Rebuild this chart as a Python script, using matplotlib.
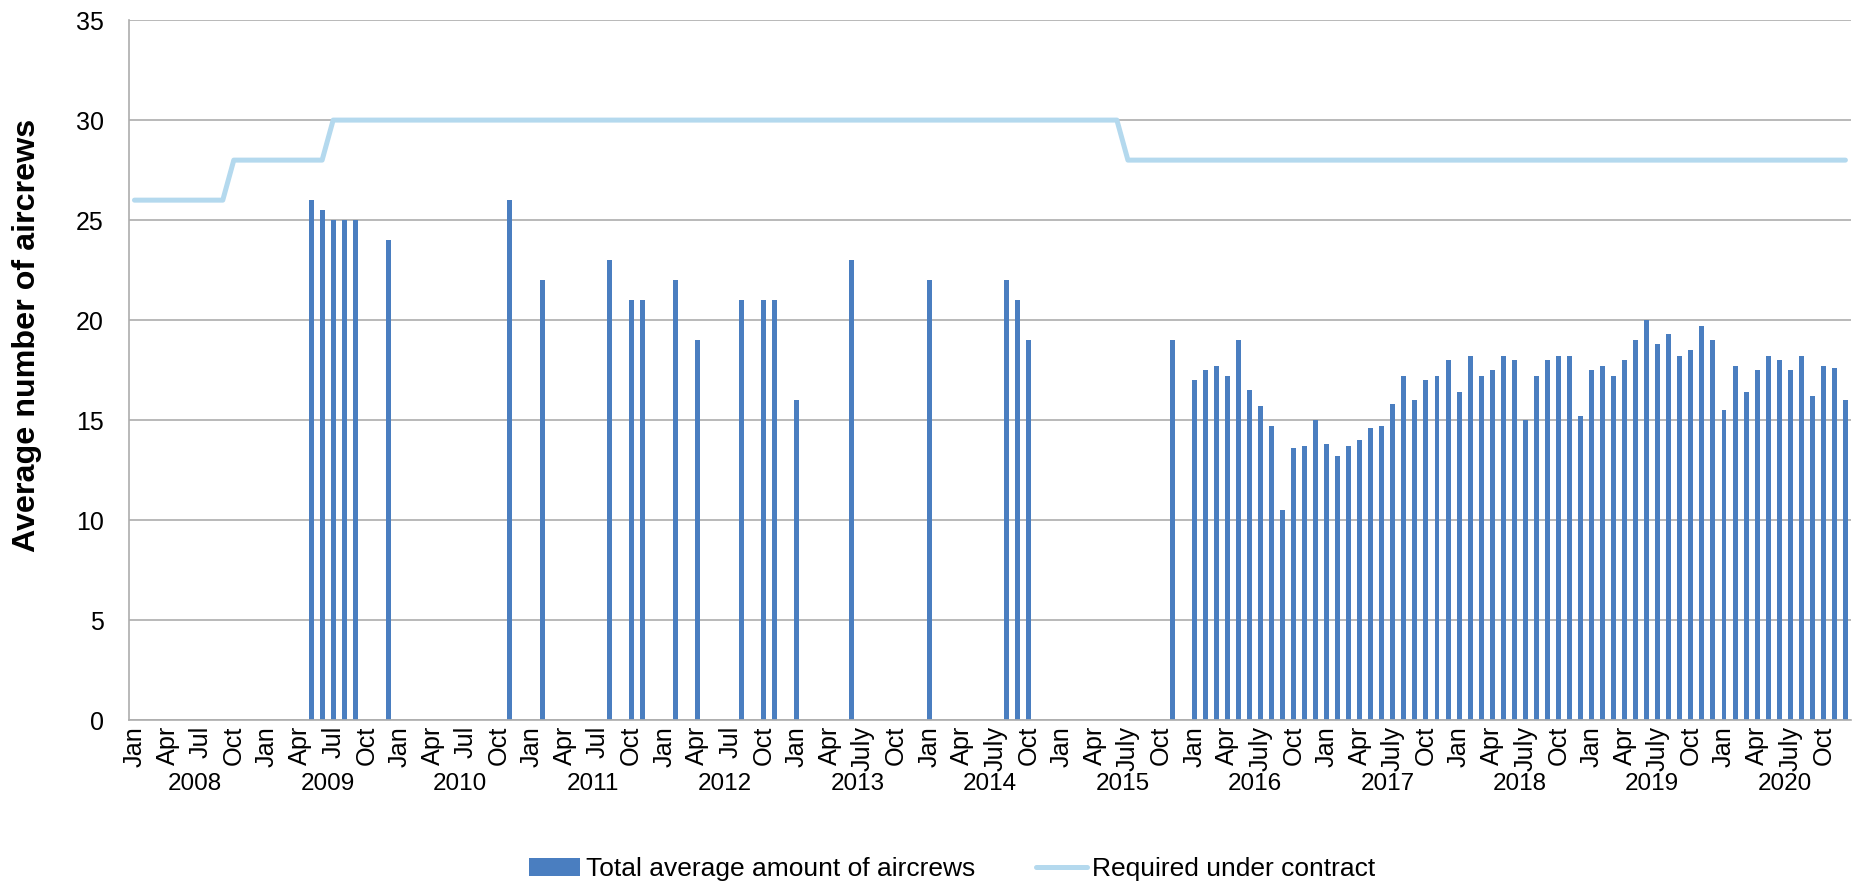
import numpy as np
import matplotlib
matplotlib.use("Agg")
import matplotlib.pyplot as plt
from matplotlib.lines import Line2D
from matplotlib.patches import Patch

plt.rcParams["font.family"] = ["Liberation Sans", "DejaVu Sans"]

NA = np.nan

years = ["2008", "2009", "2010", "2011", "2012", "2013", "2014",
         "2015", "2016", "2017", "2018", "2019", "2020"]
months_short = ["Jan", "Apr", "Jul", "Oct"]   # used 2008-2012
months_long = ["Jan", "Apr", "July", "Oct"]   # used 2013-2020

# monthly average of aircrews, Jan..Dec, NA = no figure reported
aircrews_2008 = [NA, NA, NA, NA, NA, NA, NA, NA, NA, NA, NA, NA]
aircrews_2009 = [NA, NA, NA, NA, 26, 25.5, 25, 25, 25, NA, NA, 24]
aircrews_2010 = [NA, NA, NA, NA, NA, NA, NA, NA, NA, NA, 26, NA]
aircrews_2011 = [NA, 22, NA, NA, NA, NA, NA, 23, NA, 21, 21, NA]
aircrews_2012 = [NA, 22, NA, 19, NA, NA, NA, 21, NA, 21, 21, NA]
aircrews_2013 = [16, NA, NA, NA, NA, 23, NA, NA, NA, NA, NA, NA]
aircrews_2014 = [22, NA, NA, NA, NA, NA, NA, 22, 21, 19, NA, NA]
aircrews_2015 = [NA, NA, NA, NA, NA, NA, NA, NA, NA, NA, 19, NA]
aircrews_2016 = [17, 17.5, 17.7, 17.2, 19, 16.5, 15.7, 14.7, 10.5, 13.6, 13.7, 15]
aircrews_2017 = [13.8, 13.2, 13.7, 14, 14.6, 14.7, 15.8, 17.2, 16, 17, 17.2, 18]
aircrews_2018 = [16.4, 18.2, 17.2, 17.5, 18.2, 18, 15, 17.2, 18, 18.2, 18.2, 15.2]
aircrews_2019 = [17.5, 17.7, 17.2, 18, 19, 20, 18.8, 19.3, 18.2, 18.5, 19.7, 19]
aircrews_2020 = [15.5, 17.7, 16.4, 17.5, 18.2, 18, 17.5, 18.2, 16.2, 17.7, 17.6, 16]

# contractual requirement, Jan..Dec
required_2008 = [26, 26, 26, 26, 26, 26, 26, 26, 26, 28, 28, 28]
required_2009 = [28, 28, 28, 28, 28, 28, 30, 30, 30, 30, 30, 30]
required_2010 = [30, 30, 30, 30, 30, 30, 30, 30, 30, 30, 30, 30]
required_2011 = [30, 30, 30, 30, 30, 30, 30, 30, 30, 30, 30, 30]
required_2012 = [30, 30, 30, 30, 30, 30, 30, 30, 30, 30, 30, 30]
required_2013 = [30, 30, 30, 30, 30, 30, 30, 30, 30, 30, 30, 30]
required_2014 = [30, 30, 30, 30, 30, 30, 30, 30, 30, 30, 30, 30]
required_2015 = [30, 30, 30, 30, 30, 30, 28, 28, 28, 28, 28, 28]
required_2016 = [28, 28, 28, 28, 28, 28, 28, 28, 28, 28, 28, 28]
required_2017 = [28, 28, 28, 28, 28, 28, 28, 28, 28, 28, 28, 28]
required_2018 = [28, 28, 28, 28, 28, 28, 28, 28, 28, 28, 28, 28]
required_2019 = [28, 28, 28, 28, 28, 28, 28, 28, 28, 28, 28, 28]
required_2020 = [28, 28, 28, 28, 28, 28, 28, 28, 28, 28, 28, 28]

aircrews = np.array(
    aircrews_2008 + aircrews_2009 + aircrews_2010 + aircrews_2011
    + aircrews_2012 + aircrews_2013 + aircrews_2014 + aircrews_2015
    + aircrews_2016 + aircrews_2017 + aircrews_2018 + aircrews_2019
    + aircrews_2020, dtype=float)
required = np.array(
    required_2008 + required_2009 + required_2010 + required_2011
    + required_2012 + required_2013 + required_2014 + required_2015
    + required_2016 + required_2017 + required_2018 + required_2019
    + required_2020, dtype=float)

BAR_COLOR = "#4A7EC0"
LINE_COLOR = "#B4D9EE"
GRID_COLOR = "#ADADAD"

x = np.arange(len(aircrews))
has_value = ~np.isnan(aircrews)

fig = plt.figure(figsize=(18.58, 8.86), dpi=100)
ax = fig.add_axes([0.0694, 0.1868, 0.9268, 0.7906])

ax.bar(x[has_value], aircrews[has_value], width=0.45, color=BAR_COLOR, zorder=2)
ax.plot(x, required, color=LINE_COLOR, lw=3.6,
        solid_capstyle="round", solid_joinstyle="round", zorder=3)

ax.set_xlim(-0.5, len(x) - 0.5)
ax.set_ylim(0, 35)
ax.set_yticks(range(0, 36, 5))

tick_labels = []
for yr in years:
    tick_labels += months_short if int(yr) <= 2012 else months_long
ax.set_xticks(x[::3])
ax.set_xticklabels(tick_labels, rotation=90, fontsize=18.2)
ax.tick_params(axis="x", length=0, pad=4)
ax.tick_params(axis="y", length=0, pad=18, labelsize=18)

for i, yr in enumerate(years):
    ax.text(i * 12 + 5.5, -0.09, yr, transform=ax.get_xaxis_transform(),
            ha="center", va="center", fontsize=17.5)

ax.yaxis.grid(True, color=GRID_COLOR, lw=1.2)
ax.set_axisbelow(True)
for side in ("top", "right"):
    ax.spines[side].set_visible(False)
for side in ("left", "bottom"):
    ax.spines[side].set_color(GRID_COLOR)
    ax.spines[side].set_linewidth(1.2)

fig.text(0.0145, 0.621, "Average number of aircrews", rotation=90,
         ha="center", va="center", fontsize=23.2, fontweight="bold")

handles = [
    Patch(facecolor=BAR_COLOR, label="Total average amount of aircrews"),
    Line2D([0], [0], color=LINE_COLOR, lw=3.6, solid_capstyle="round",
           label="Required under contract"),
]
fig.legend(handles=handles, loc="center", bbox_to_anchor=(0.5125, 0.019),
           ncol=2, frameon=False, fontsize=19.0, handlelength=1.95,
           handletextpad=0.2, columnspacing=2.3)

fig.savefig("out.png", dpi=100)
